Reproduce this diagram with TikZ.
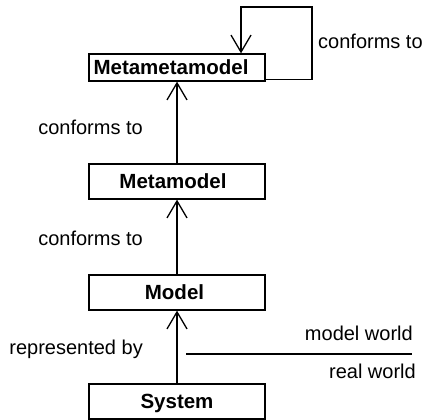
\documentclass[tikz,border=0pt]{standalone}
\usepackage{fontspec}
\setmainfont{Liberation Sans}
\usetikzlibrary{arrows.meta}
\begin{document}
\begin{tikzpicture}[x=1pt,y=-1pt,
  lw/.style={line width=1.3pt},
  box/.style={draw,lw,minimum width=176pt,inner sep=0pt,
    font=\fontsize{20.5}{24}\selectfont\bfseries,text height=14.6pt,text depth=0pt},
  lbl/.style={inner sep=0pt,font=\fontsize{20}{24}\selectfont},
  arr/.style={lw,-{Straight Barb[length=17pt,width=20pt]}}]
\useasboundingbox (0,0) rectangle (424,420);

% modelling levels
\node[box,minimum height=27pt] (mmm) at (177,67.5) {\hspace*{-12pt}Metametamodel};
\node[box,minimum height=35pt] (mm)  at (177,181.5) {\hspace*{-8pt}Metamodel};
\node[box,minimum height=35pt] (m)   at (177,292.5) {\hspace*{-5pt}Model};
\node[box,minimum height=35pt] (sys) at (177,401.5) {System};

% relations between levels
\draw[arr] (mm) -- (mmm);
\draw[arr] (m) -- (mm);
\draw[arr] (sys) -- (m);

% self conformance loop
\coordinate (loopR) at (312,7);
\draw[arr] ([yshift=2pt]mmm.south east) -| (loopR) -| ([xshift=64pt]mmm.north);

% labels
\node[lbl,anchor=base west] (c0) at (318,49) {conforms to};
\node[lbl,anchor=base east] (c1) at (143,135) {conforms to};
\node[lbl,anchor=base east] (c2) at (143,246) {conforms to};
\node[lbl,anchor=base east] (rep) at (143,355) {represented by};

% boundary between model world and real world
\coordinate (sepL) at (186,354);
\coordinate (sepR) at (412,354);
\draw[lw] (sepL) -- (sepR);
\node[lbl,anchor=base east] (mw) at (413,341) {model world};
\node[lbl,anchor=base east] (rw) at (416,378) {real world};
\end{tikzpicture}
\end{document}
